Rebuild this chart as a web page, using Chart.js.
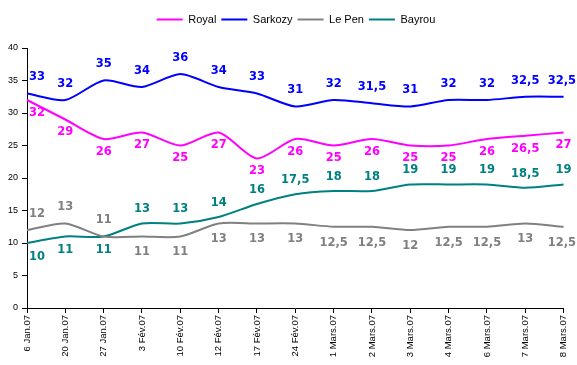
<!DOCTYPE html>
<html lang="fr">
<head>
    <meta charset="UTF-8">
    <title>Sondages 2007</title>
    <script src="https://cdn.jsdelivr.net/npm/chart.js"></script>
    <style>
        body {
            margin: 0;
            padding: 0;
            background-color: #fff;
        }
        canvas {
            display: block;
        }
    </style>
</head>
<body>
    <canvas id="pollChart" width="577" height="365"></canvas>

    <script>
        const dates = ['6 Jan.07', '20 Jan.07', '27 Jan.07', '3 Fév.07', '10 Fév.07', '12 Fév.07', '17 Fév.07',
            '24 Fév.07', '1 Mars.07', '2 Mars.07', '3 Mars.07', '4 Mars.07', '6 Mars.07', '7 Mars.07', '8 Mars.07'];
        const royal = [32, 29, 26, 27, 25, 27, 23, 26, 25, 26, 25, 25, 26, 26.5, 27];
        const sarkozy = [33, 32, 35, 34, 36, 34, 33, 31, 32, 31.5, 31, 32, 32, 32.5, 32.5];
        const lePen = [12, 13, 11, 11, 11, 13, 13, 13, 12.5, 12.5, 12, 12.5, 12.5, 13, 12.5];
        const bayrou = [10, 11, 11, 13, 13, 14, 16, 17.5, 18, 18, 19, 19, 19, 18.5, 19];
        const yTicks = [0, 5, 10, 15, 20, 25, 30, 35, 40];

        // labels above or below the line (switching after a given point), at some distance
        function makeSeries(label, data, color, below, switchAt, gap) {
            return {
                label: label,
                data: data,
                borderColor: color,
                backgroundColor: color,
                borderWidth: 2,
                pointRadius: 0,
                tension: 0.25,
                fill: false,
                labelBelow: below,
                labelSwitch: switchAt,
                labelGap: gap
            };
        }

        const valueLabels = {
            id: 'valueLabels',
            afterDatasetsDraw(chart) {
                const ctx = chart.ctx;
                const area = chart.chartArea;
                ctx.save();
                ctx.font = 'bold 11.5px "DejaVu Sans"';
                ctx.textAlign = 'center';
                ctx.textBaseline = 'middle';
                chart.data.datasets.forEach((ds, di) => {
                    const meta = chart.getDatasetMeta(di);
                    ctx.fillStyle = ds.borderColor;
                    meta.data.forEach((pt, i) => {
                        let below = ds.labelBelow;
                        if (ds.labelSwitch !== null && i >= ds.labelSwitch) below = !below;
                        const y = pt.y + (below ? ds.labelGap : -ds.labelGap);
                        const text = String(ds.data[i]).replace('.', ',');
                        const w = ctx.measureText(text).width;
                        let x = pt.x;
                        if (x - w / 2 < area.left + 2) x = area.left + 2 + w / 2;
                        if (x + w / 2 > chart.width - 1) x = chart.width - 1 - w / 2;
                        ctx.fillText(text, x, y);
                    });
                });
                ctx.restore();
            }
        };

        // extra room under the legend, and the legend a bit to the right
        const legendTweak = {
            id: 'legendTweak',
            beforeInit(chart) {
                const legend = chart.legend;
                const fit = legend.fit;
                const draw = legend.draw;
                legend.fit = function () {
                    fit.call(this);
                    this.height += 13;
                };
                legend.draw = function () {
                    this.ctx.save();
                    this.ctx.translate(13, 0);
                    draw.call(this);
                    this.ctx.restore();
                };
            }
        };

        new Chart(document.getElementById('pollChart'), {
            type: 'line',
            data: {
                labels: dates,
                datasets: [
                    makeSeries('Royal', royal, '#FF00FF', true, null, 13),
                    makeSeries('Sarkozy', sarkozy, '#0000FF', false, null, 16),
                    makeSeries('Le Pen', lePen, '#808080', false, 3, 16),
                    makeSeries('Bayrou', bayrou, '#008080', true, 3, 14)
                ]
            },
            options: {
                responsive: false,
                animation: false,
                layout: {
                    padding: { left: 0, right: 11, top: 9, bottom: 0 }
                },
                plugins: {
                    legend: {
                        position: 'top',
                        labels: {
                            usePointStyle: true,
                            pointStyle: 'line',
                            pointStyleWidth: 26,
                            boxHeight: 11,
                            padding: 5,
                            color: '#000',
                            font: { family: '"Liberation Sans", Arial', size: 11 }
                        }
                    },
                    tooltip: { enabled: false }
                },
                scales: {
                    x: {
                        offset: false,
                        afterFit: scale => { scale.height = 57; },
                        grid: {
                            drawOnChartArea: false,
                            drawTicks: true,
                            tickLength: 5,
                            color: '#000'
                        },
                        border: { color: '#000', width: 1 },
                        ticks: {
                            minRotation: 90,
                            maxRotation: 90,
                            autoSkip: false,
                            padding: 2,
                            color: '#000',
                            font: { family: '"Liberation Sans", Arial', size: 9.5 }
                        }
                    },
                    y: {
                        min: 0,
                        max: 40,
                        afterFit: scale => { scale.width = 27; },
                        afterBuildTicks: scale => { scale.ticks = yTicks.map(v => ({ value: v })); },
                        grid: {
                            drawOnChartArea: false,
                            drawTicks: true,
                            tickLength: 5,
                            color: '#000'
                        },
                        border: { color: '#000', width: 1 },
                        ticks: {
                            padding: 4,
                            color: '#000',
                            font: { family: '"Liberation Sans", Arial', size: 9 }
                        }
                    }
                }
            },
            plugins: [legendTweak, valueLabels]
        });
    </script>
</body>
</html>
